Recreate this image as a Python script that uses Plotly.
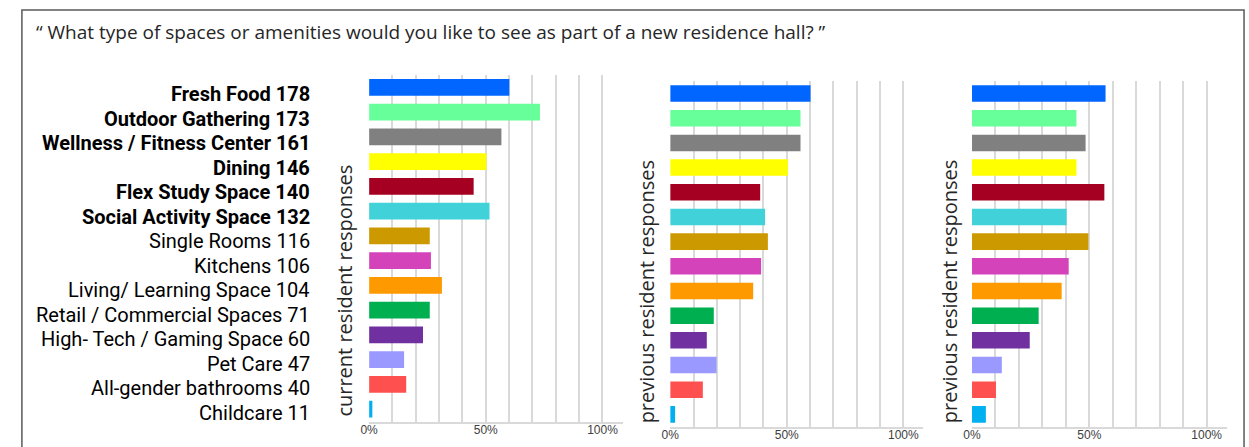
"""Residence hall amenities survey - three horizontal bar panels."""

import plotly.graph_objects as go

W, H = 1249, 447

# Data
categories = ['Fresh Food', 'Outdoor Gathering', 'Wellness / Fitness Center', 'Dining',
              'Flex Study Space', 'Social Activity Space', 'Single Rooms', 'Kitchens',
              'Living/ Learning Space', 'Retail / Commercial Spaces',
              'High- Tech / Gaming Space', 'Pet Care', 'All-gender bathrooms', 'Childcare']
counts = [178, 173, 161, 146, 140, 132, 116, 106, 104, 71, 60, 47, 40, 11]
current_pct = [60.1, 73.2, 56.7, 50.3, 44.8, 51.6, 26.0, 26.5, 31.2, 26.0, 23.1, 15.0, 15.9, 1.4]
previous_a_pct = [60.2, 55.9, 55.9, 50.5, 38.6, 40.7, 41.9, 39.0, 35.6, 18.7, 15.7, 19.9, 14.0, 2.1]
previous_b_pct = [56.9, 44.5, 48.4, 44.5, 56.4, 40.3, 49.6, 41.2, 38.2, 28.4, 24.6, 12.7, 10.2, 5.9]
tick_vals = list(range(0, 101, 10))
tick_text = ['0%' if v == 0 else '50%' if v == 50 else '100%' if v == 100 else '' for v in tick_vals]

BAR_COLORS = ['#0066FF', '#66FF99', '#808080', '#FFFF00', '#A50021', '#40D2D8', '#CC9900',
              '#D543BB', '#FF9900', '#00B050', '#7030A0', '#9999FF', '#FF5050', '#00B0F0']
GRID_COLOR = '#d9d9d9'
TEXT_COLOR = '#262626'

BOLD_ROWS = 6


def px_x(p):
    return p / W


def px_y(p):
    return 1 - p / H


fig = go.Figure()

panels = [
    ('x', 'y', current_pct, (362.7, 618.0), (75.0, 421.5), 'current resident responses', 337),
    ('x2', 'y2', previous_a_pct, (666.0, 921.0), (81.2, 426.7), 'previous resident responses', 642),
    ('x3', 'y3', previous_b_pct, (970.0, 1226.7), (81.2, 426.7), 'previous resident responses', 947),
]

for i, (xa, ya, vals, xdom, ydom, title, tx) in enumerate(panels):
    fig.add_trace(go.Bar(
        x=vals, y=categories, orientation='h', xaxis=xa, yaxis=ya,
        marker=dict(color=BAR_COLORS, line=dict(width=0)),
        width=0.67, showlegend=False,
        hovertemplate='%{y}: %{x:.0f}%<extra></extra>',
    ))
    suffix = '' if i == 0 else str(i + 1)
    fig.update_layout(**{
        'xaxis' + suffix: dict(
            domain=[px_x(xdom[0]), px_x(xdom[1])], range=[0, 108.6],
            tickvals=tick_vals, ticktext=tick_text, showgrid=True,
            gridcolor=GRID_COLOR, gridwidth=1.5, zeroline=False,
            showline=True, linecolor=GRID_COLOR, linewidth=2, anchor=ya,
            tickfont=dict(family='Liberation Sans, Arial', size=12, color='#404040'),
            ticks='', ticklabelstandoff=-4, fixedrange=True,
        ),
        'yaxis' + suffix: dict(
            domain=[px_y(ydom[1]), px_y(ydom[0])], range=[13.5, -0.5],
            showticklabels=False, showgrid=False, zeroline=False, anchor=xa,
            type='category', fixedrange=True,
        ),
    })
    # rotated axis title
    fig.add_annotation(
        x=px_x(tx), y=px_y(291), xref='paper', yref='paper', text=title,
        textangle=-90, showarrow=False, xanchor='center', yanchor='middle',
        font=dict(family='Open Sans', size=20, color=TEXT_COLOR),
    )

# category labels to the left of the first panel
for i, (cat, n) in enumerate(zip(categories, counts)):
    label = f'{cat} {n}'
    if i < BOLD_ROWS:
        label = f'<b>{label}</b>'
    fig.add_annotation(
        x=px_x(305), y=cat, xref='paper', yref='y', yshift=-7 + 0.25 * i,
        text=label, showarrow=False, xanchor='right', yanchor='middle',
        font=dict(family='Roboto', size=20, color='#000000'),
    )

# question title
fig.add_annotation(
    x=px_x(25), y=px_y(32), xref='paper', yref='paper',
    text='\u201c What type of spaces or amenities would you like to see as part of a new residence hall? \u201d',
    showarrow=False, xanchor='left', yanchor='middle',
    font=dict(family='Open Sans', size=19, color=TEXT_COLOR),
)

# outer frame
fig.add_shape(type='rect', xref='paper', yref='paper',
              x0=px_x(13), x1=px_x(1244), y0=-0.1, y1=px_y(10),
              line=dict(color='#595959', width=1.5))

fig.update_layout(
    width=W, height=H,
    margin=dict(l=0, r=0, t=0, b=0),
    paper_bgcolor='white', plot_bgcolor='white',
    bargap=0.33,
)

fig.write_html(
    "out.html",
    config={'responsive': False, 'displayModeBar': False},
    post_script="document.body.style.margin='0';document.body.style.overflow='hidden';",
)
